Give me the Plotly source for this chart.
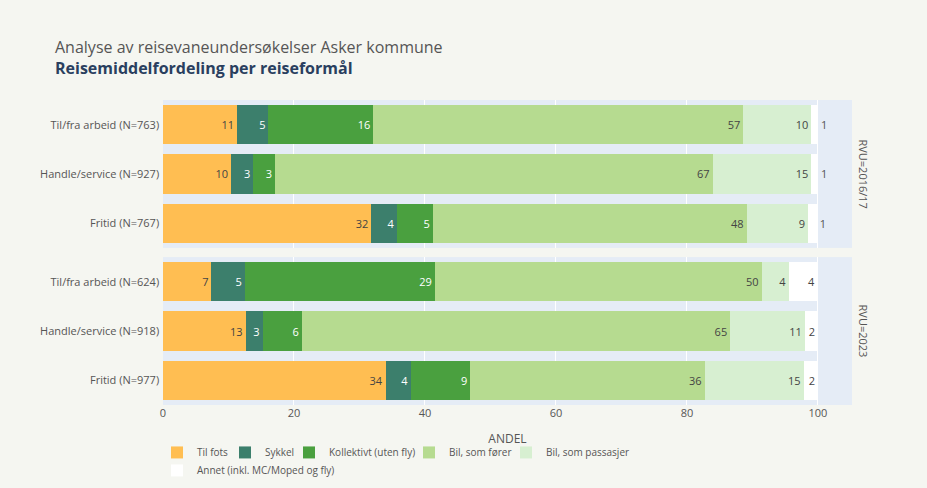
import plotly.graph_objects as go
from plotly.subplots import make_subplots

# Reiseformål per RVU (with number of trips)
periods = ["2016/17", "2023"]
purposes_2016 = ["Til/fra arbeid (N=763)", "Handle/service (N=927)", "Fritid (N=767)"]
purposes_2023 = ["Til/fra arbeid (N=624)", "Handle/service (N=918)", "Fritid (N=977)"]

modes = [
    "Til fots",
    "Sykkel",
    "Kollektivt (uten fly)",
    "Bil, som fører",
    "Bil, som passasjer",
    "Annet (inkl. MC/Moped og fly)",
]
mode_colors = ["#FFBE52", "#3C7F6C", "#4AA03F", "#B6DB90", "#D7EFD1", "#FFFFFF"]

# Andel (%) per reisemiddel, one list per mode, ordered as the purposes above
share_2016 = {
    "Til fots": [11.3, 10.4, 31.8],
    "Sykkel": [4.8, 3.4, 4.0],
    "Kollektivt (uten fly)": [16.0, 3.3, 5.4],
    "Bil, som fører": [56.5, 66.8, 47.9],
    "Bil, som passasjer": [10.4, 15.1, 9.4],
    "Annet (inkl. MC/Moped og fly)": [1.0, 1.0, 1.3],
}
share_2023 = {
    "Til fots": [7.4, 12.6, 34.0],
    "Sykkel": [5.1, 2.6, 3.9],
    "Kollektivt (uten fly)": [29.0, 6.0, 9.0],
    "Bil, som fører": [49.9, 65.4, 35.8],
    "Bil, som passasjer": [4.2, 11.4, 15.1],
    "Annet (inkl. MC/Moped og fly)": [4.4, 2.0, 2.2],
}

TEXT = "#555555"
MARGIN_L, MARGIN_R, MARGIN_T, MARGIN_B = 163, 75, 100, 83
W, H = 927, 488
PLOT_W = W - MARGIN_L - MARGIN_R
PLOT_H = H - MARGIN_T - MARGIN_B

# Legend entry placement (swatch centre in px, row index) - two rows, compact spacing
legend_slots = [(177, 0), (245, 0), (309, 0), (429, 0), (526, 0), (177, 1)]
legend_ids = ["legend"] + [f"legend{i}" for i in range(2, len(modes) + 1)]

fig = make_subplots(rows=2, cols=1, shared_xaxes=True, vertical_spacing=0.03)

for row, (purposes, shares) in enumerate([(purposes_2016, share_2016), (purposes_2023, share_2023)], start=1):
    for mode, color, leg in zip(modes, mode_colors, legend_ids):
        fig.add_trace(
            go.Bar(
                x=shares[mode],
                y=purposes,
                orientation="h",
                name=mode,
                legend=leg,
                showlegend=(row == 1),
                marker=dict(color=color, line=dict(width=0)),
                texttemplate="%{x:.0f}",
                textposition="auto",
                textfont=dict(size=11),
                outsidetextfont=dict(size=11, color=TEXT),
                cliponaxis=False,
            ),
            row=row,
            col=1,
        )
    fig.update_yaxes(autorange="reversed", row=row, col=1)

# Facet labels on the right side
for row, period in enumerate(periods, start=1):
    yref = "y domain" if row == 1 else "y2 domain"
    fig.add_annotation(
        text=f"RVU={period}",
        xref="paper", yref=yref,
        x=1.0, y=0.5,
        xanchor="left", yanchor="middle",
        xshift=2,
        textangle=90,
        showarrow=False,
        font=dict(size=11, color=TEXT),
    )

fig.update_xaxes(range=[0, 105.2], dtick=20, gridcolor="white", zeroline=False,
                 tickfont=dict(size=11, color=TEXT))
fig.update_xaxes(title=dict(text="ANDEL", font=dict(size=12, color=TEXT), standoff=15), row=2, col=1)
fig.update_yaxes(tickfont=dict(size=11, color=TEXT), ticksuffix=" ")

legend_layout = {}
for leg, (cx, r) in zip(legend_ids, legend_slots):
    legend_layout[leg] = dict(
        orientation="h",
        x=(cx - 20 - MARGIN_L) / PLOT_W, xanchor="left",
        y=-0.108 - r * 18 / PLOT_H, yanchor="top",
        font=dict(size=10, color=TEXT),
        bgcolor="rgba(0,0,0,0)",
    )

fig.update_layout(
    width=W,
    height=H,
    barmode="stack",
    bargap=0.2,
    font=dict(family="Open Sans, sans-serif", color=TEXT),
    paper_bgcolor="#F5F6F1",
    plot_bgcolor="#E5ECF6",
    margin=dict(l=MARGIN_L, r=MARGIN_R, t=MARGIN_T, b=MARGIN_B, autoexpand=False),
    title=dict(
        text="<span style='color:#555555'>Analyse av reisevaneundersøkelser Asker kommune</span>"
             "<br><b>Reisemiddelfordeling per reiseformål</b>",
        font=dict(size=16, color="#2A3F5F"),
        x=55 / W, xanchor="left",
        y=1 - 53 / H, yanchor="top",
    ),
    **legend_layout,
)

fig.write_html("out.html")
